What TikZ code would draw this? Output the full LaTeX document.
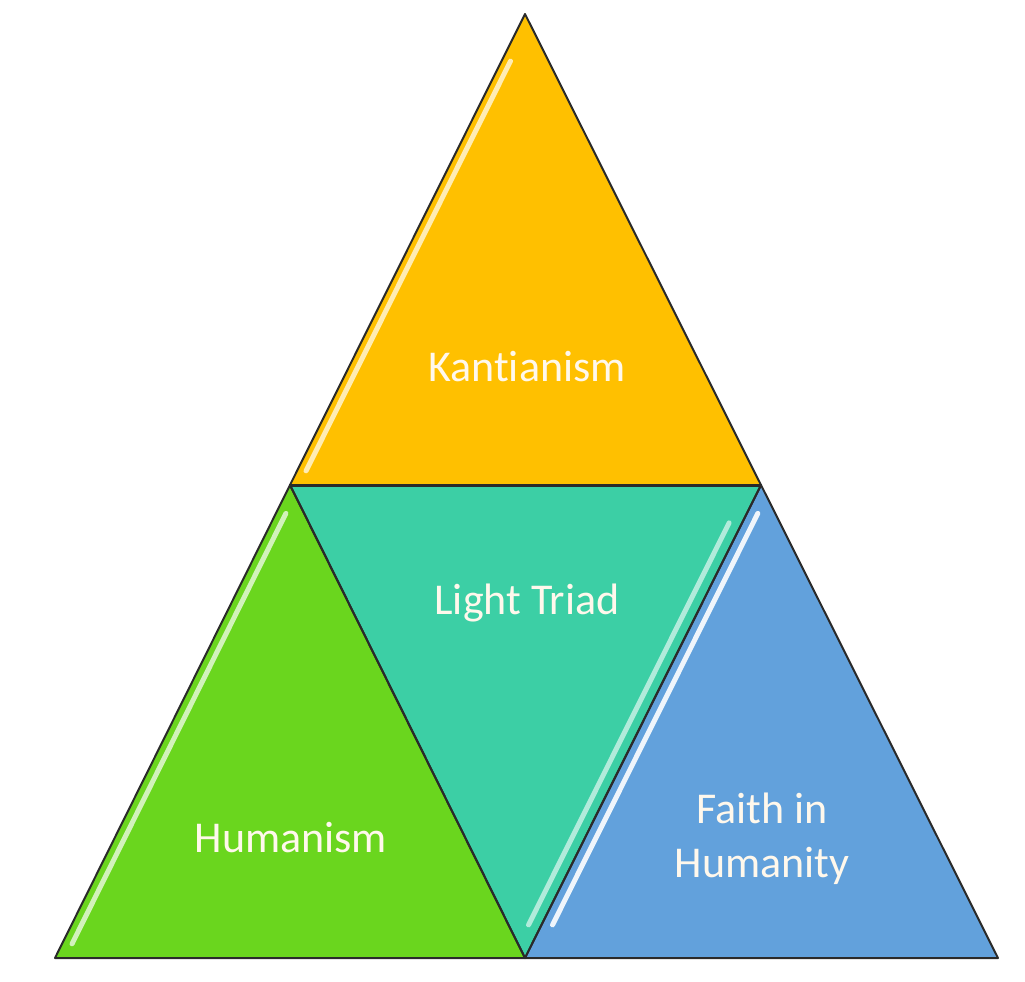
\documentclass[tikz,border=0pt]{standalone}
\usepackage{fontspec}
\setmainfont[Ligatures=NoCommon]{Carlito}
\usetikzlibrary{calc}
\definecolor{kantY}{HTML}{FFC000}
\definecolor{humG}{HTML}{6AD61E}
\definecolor{triadT}{HTML}{3CCFA5}
\definecolor{faithB}{HTML}{62A1DC}
\definecolor{edgeC}{HTML}{2A2A2A}
\definecolor{labelC}{HTML}{FFF8EC}
\begin{document}
\begin{tikzpicture}[x=0.5pt,y=-0.5pt,
  facet/.style={draw=edgeC, line width=1pt, line join=round},
  glare/.style={white, line width=2.5pt, opacity=0.7, line cap=round},
  label/.style={text=labelC, font=\fontsize{22}{27}\selectfont, align=center}]
  % canvas
  \path[fill=white] (0,0) rectangle (1025,982);
  \useasboundingbox (0,0) rectangle (1025,982);
  % corner points
  \coordinate (top) at (525,14);
  \coordinate (ml) at (290,485);
  \coordinate (mr) at (761,485);
  \coordinate (bl) at (55,958);
  \coordinate (bm) at (525,958);
  \coordinate (br) at (998,958);
  % four facets
  \fill[kantY] (top) -- (mr) -- (ml) -- cycle;
  \fill[humG] (ml) -- (bm) -- (bl) -- cycle;
  \fill[triadT] (ml) -- (mr) -- (bm) -- cycle;
  \fill[faithB] (mr) -- (br) -- (bm) -- cycle;
  % glossy bevel highlights
  \draw[glare] ($(top)!0.10!(ml)+(9,0)$) -- ($(top)!0.97!(ml)+(9,0)$);
  \draw[glare] ($(ml)!0.06!(bl)+(10,0)$) -- ($(ml)!0.97!(bl)+(10,0)$);
  \draw[glare, opacity=0.6] ($(mr)!0.08!(bm)+(-13,0)$) -- ($(mr)!0.93!(bm)+(-13,0)$);
  \draw[glare, opacity=0.9] ($(mr)!0.06!(bm)+(11,0)$) -- ($(mr)!0.93!(bm)+(11,0)$);
  % outlines
  \draw[facet] (top) -- (mr) -- (ml) -- cycle;
  \draw[facet] (ml) -- (bm) -- (bl) -- cycle;
  \draw[facet] (mr) -- (br) -- (bm) -- cycle;
  \draw[facet] (ml) -- (mr) -- (bm) -- cycle;
  \draw[edgeC, line width=1.5pt] (ml) -- (mr);
  \draw[edgeC, line width=1.2pt] (bl) -- (br);
  % labels
  \node[label] (kant) at (527,367) {Kantianism};
  \node[label] (triad) at (527,603) {Light Triad};
  \node[label] (human) at (291,838) {Humanism};
  \node[label] (faith) at (762,839) {Faith in\\Humanity};
\end{tikzpicture}
\end{document}
